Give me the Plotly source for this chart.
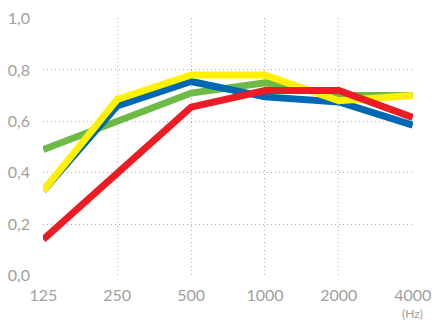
import plotly.graph_objects as go

freqs = ["125", "250", "500", "1000", "2000", "4000"]
green = [0.49, 0.60, 0.71, 0.75, 0.70, 0.70]
blue = [0.33, 0.66, 0.755, 0.695, 0.675, 0.585]
yellow = [0.33, 0.685, 0.78, 0.78, 0.68, 0.70]
red = [0.14, 0.40, 0.655, 0.72, 0.72, 0.615]
y_ticks = [0.0, 0.2, 0.4, 0.6, 0.8, 1.0]

series = [("green", green, "#6cbb45"), ("blue", blue, "#0068b3"),
          ("yellow", yellow, "#fff100"), ("red", red, "#ec1c24")]

xs = list(range(len(freqs)))
fig = go.Figure()
for name, vals, col in series:
    fig.add_trace(go.Scatter(x=xs, y=vals, mode="lines", name=name,
                             line=dict(color=col, width=7), cliponaxis=False))

font_col = "#a0a0a0"
grid = dict(showgrid=True, gridcolor="#b0b0b0", griddash="1px,3px", gridwidth=1,
            zeroline=False, showline=False, ticks="", automargin=False)
fig.update_layout(
    width=438, height=320, showlegend=False,
    margin=dict(l=43, r=25, t=18, b=44),
    paper_bgcolor="white", plot_bgcolor="white",
    separators=",.",
    font=dict(family="Lato, sans-serif", color=font_col, size=16),
    xaxis=dict(range=[-0.004, 5.004], tickvals=xs, ticktext=freqs,
               ticklabelstandoff=8, **grid),
    yaxis=dict(range=[-0.002, 1.002], tickvals=y_ticks, tickformat=".1f",
               ticklabelstandoff=12, **grid),
    annotations=[dict(text="(Hz)", x=5, y=0, xref="x", yref="paper",
                      yshift=-37, showarrow=False, xanchor="center", yanchor="middle",
                      font=dict(size=12, color=font_col))],
)
fig.write_html("out.html", config={"displayModeBar": False},
               post_script="document.body.style.margin='0';document.body.style.overflow='hidden';")
